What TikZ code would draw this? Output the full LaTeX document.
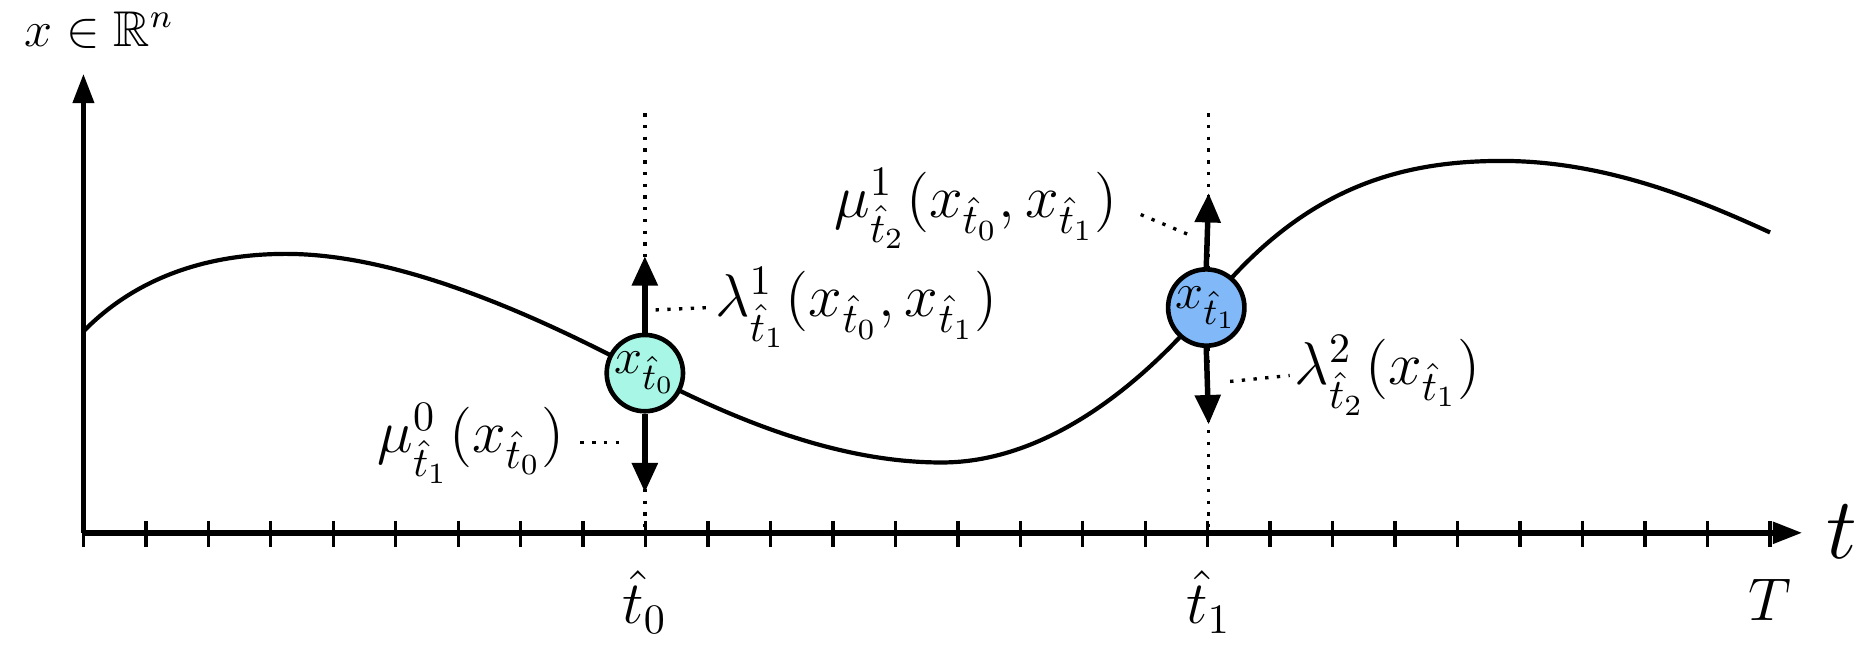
\documentclass[tikz,border=0pt]{standalone}
\usepackage{amssymb}
\usetikzlibrary{arrows.meta}
\definecolor{cA}{HTML}{A8F7E6}
\definecolor{cB}{HTML}{80B8F8}
\tikzset{
 lab/.style={font=\fontsize{14}{16}\selectfont, inner sep=1pt},
 st/.style={circle, draw, line width=1.1pt, minimum size=0.64cm, inner sep=0pt, font=\fontsize{13}{15}\selectfont},
 ar/.style={line width=1.3pt, -{Triangle[length=7pt,width=6pt]}},
 dt/.style={dotted, line width=0.8pt},
 tk/.style={line width=0.8pt}
}
\begin{document}
\begin{tikzpicture}[x=0.01cm,y=-0.01cm]
\useasboundingbox (0,0) rectangle (1568,542);
% axes
\coordinate (O) at (70,447);
\coordinate (Ytop) at (70,62);
\coordinate (Xend) at (1512,447);
\draw[line width=1.1pt,-{Triangle[length=7pt,width=5pt]}] (O) -- (Ytop);
\draw[line width=1.3pt,-{Triangle[length=7pt,width=5pt]}] (O) -- (Xend);
\foreach \i in {0,...,27} \draw[tk] ({70+\i*52.4},437) -- ({70+\i*52.4},459);
% dotted verticals
\draw[dt] (541,95) -- (541,447);
\draw[dt] (1014,95) -- (1014,447);
% curve
\draw[line width=1pt] (70,278) .. controls (115,232) and (175,213) .. (240,213)
  .. controls (340,213) and (460,270) .. (541,313)
  .. controls (640,365) and (720,388) .. (790,388)
  .. controls (880,388) and (960,320) .. (1012,258)
  .. controls (1090,160) and (1170,135) .. (1260,135)
  .. controls (1350,135) and (1430,170) .. (1485,195);
% nodes
\node[st, fill=cA] (n0) at (541,313) {$x_{\hat t_0}$};
\node[st, fill=cB] (n1) at (1012,258) {$x_{\hat t_1}$};
\coordinate (a0u) at (541,215);
\coordinate (a0d) at (541,413);
\coordinate (a1u) at (1014,162);
\coordinate (a1d) at (1014,356);
\draw[ar] (n0.north) -- (a0u);
\draw[ar] (n0.south) -- (a0d);
\draw[ar] (n1.north) -- (a1u);
\draw[ar] (n1.south) -- (a1d);
% labels
\node[lab, anchor=west] (l1) at (596,258) {$\lambda^1_{\hat t_1}(x_{\hat t_0},x_{\hat t_1})$};
\coordinate (d1) at (550,260);
\draw[dt] (d1) -- (l1.west);
\node[lab, anchor=east] (m0) at (478,372) {$\mu^0_{\hat t_1}(x_{\hat t_0})$};
\coordinate (d2a) at (487,371); \coordinate (d2b) at (522,371);
\draw[dt] (d2a) -- (d2b);
\node[lab, anchor=east] (m1) at (942,175) {$\mu^1_{\hat t_2}(x_{\hat t_0},x_{\hat t_1})$};
\coordinate (d3a) at (957,180); \coordinate (d3b) at (1000,198);
\draw[dt] (d3a) -- (d3b);
\node[lab, anchor=west] (l2) at (1082,315) {$\lambda^2_{\hat t_2}(x_{\hat t_1})$};
\coordinate (d4) at (1032,320);
\draw[dt] (d4) -- (l2.west);
% axis labels
\node[font=\fontsize{12}{14}\selectfont, anchor=west] (yl) at (8,25) {$x\in\mathbb{R}^n$};
\node[font=\fontsize{22}{24}\selectfont] (tl) at (1545,446) {$t$};
\node[lab] (t0) at (541,505) {$\hat t_0$};
\node[lab] (t1) at (1014,505) {$\hat t_1$};
\node[lab] (tT) at (1485,503) {$T$};
\end{tikzpicture}
\end{document}
